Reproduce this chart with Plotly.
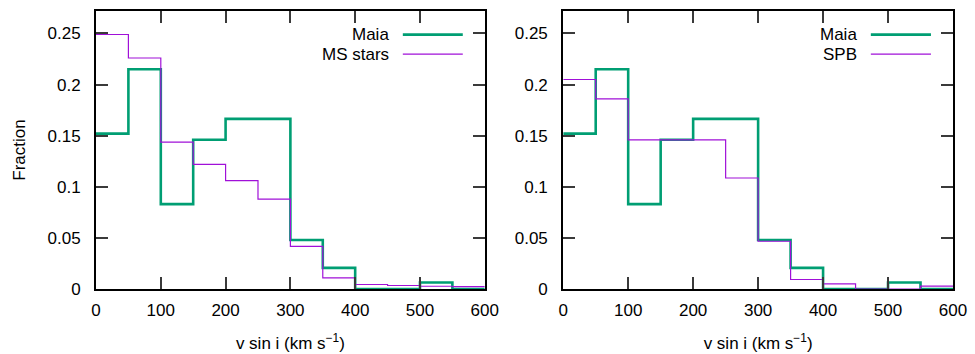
import plotly.graph_objects as go
from plotly.subplots import make_subplots

# ---- data ----
bin_edges = [0, 50, 100, 150, 200, 250, 300, 350, 400, 450, 500, 550, 600]
maia = [0.152, 0.215, 0.083, 0.146, 0.1665, 0.1665, 0.048, 0.0207, 0.0, 0.0, 0.0063, 0.0]
ms_stars = [0.249, 0.226, 0.1437, 0.122, 0.106, 0.088, 0.0418, 0.0109, 0.0044, 0.0034, 0.0027, 0.0024]
spb = [0.205, 0.186, 0.146, 0.146, 0.146, 0.1086, 0.0467, 0.0093, 0.005, 0.0, 0.0, 0.0028]
x_ticks = [0, 100, 200, 300, 400, 500, 600]
y_ticks = [0, 0.05, 0.1, 0.15, 0.2, 0.25]
y_tick_labels = ["0", "0.05", "0.1", "0.15", "0.2", "0.25"]

GREEN = "#009e73"
VIOLET = "#a010d8"
TICK = "#3a3a3a"
FONT = "Liberation Sans, Arial, sans-serif"
FS = 17

W, H = 975, 354
ml, mr, mt, mb = 96, 21.5, 11, 64.5
plot_w = W - ml - mr
plot_h = H - mt - mb
left_w = 389.0
gap = 563.5 - 96 - left_w

fig = make_subplots(rows=1, cols=2, horizontal_spacing=gap / plot_w)
fig.update_xaxes(domain=[0, left_w / plot_w], row=1, col=1)
fig.update_xaxes(domain=[(563.5 - 96) / plot_w, 1], row=1, col=2)


def steps(vals):
    return vals + [vals[-1]]


panels = [(1, ms_stars, "MS stars"), (2, spb, "SPB")]
for col, other, name in panels:
    fig.add_trace(go.Scatter(x=bin_edges, y=steps(maia), mode="lines", line_shape="hv",
                             line=dict(color=GREEN, width=2.6), name="Maia", showlegend=False),
                  row=1, col=col)
    fig.add_trace(go.Scatter(x=bin_edges, y=steps(other), mode="lines", line_shape="hv",
                             line=dict(color=VIOLET, width=1.2), name=name, showlegend=False),
                  row=1, col=col)

fig.update_xaxes(range=[0, 600], tickmode="array", tickvals=x_ticks,
                 ticktext=[str(v) for v in x_ticks],
                 title=dict(text="v sin i (km s<sup>−1</sup>)",
                            font=dict(family=FONT, size=FS, color="black"), standoff=18))
fig.update_yaxes(range=[0, 0.272], tickmode="array", tickvals=y_ticks, ticktext=y_tick_labels)

for upd in (fig.update_xaxes, fig.update_yaxes):
    upd(showline=True, linecolor="black", linewidth=2, mirror="allticks",
        ticks="inside", ticklen=12, tickwidth=1.8, tickcolor=TICK,
        showgrid=False, zeroline=False, automargin=False,
        tickfont=dict(family=FONT, size=FS, color="black"))

fig.update_xaxes(ticklabelstandoff=5)
fig.update_yaxes(ticklabelstandoff=10)

fig.update_yaxes(title=dict(text="Fraction", font=dict(family=FONT, size=FS, color="black"),
                            standoff=18), row=1, col=1)

# manual gnuplot-style legends (label, then sample line at right)
for col, other, name in panels:
    xref = "x domain" if col == 1 else "x2 domain"
    yref = "y domain" if col == 1 else "y2 domain"
    for i, (label, color, width) in enumerate([("Maia", GREEN, 2.6), (name, VIOLET, 1.2)]):
        ypix = 34.7 + i * 19.6
        yd = 1 - (ypix - mt) / plot_h
        fig.add_shape(type="line", xref=xref, yref=yref, x0=(403 - 96) / left_w, x1=(463 - 96) / left_w,
                      y0=yd, y1=yd, line=dict(color=color, width=width))
        fig.add_annotation(xref=xref, yref=yref, x=(391 - 96) / left_w, y=yd, text=label,
                           showarrow=False, xanchor="right", yanchor="middle",
                           font=dict(family=FONT, size=FS, color="black"))

fig.update_layout(width=W, height=H, margin=dict(l=ml, r=mr, t=mt, b=mb),
                  plot_bgcolor="white", paper_bgcolor="white", showlegend=False,
                  font=dict(family=FONT, size=FS, color="black"))

fig.write_html("out.html", config={"displayModeBar": False},
               post_script="document.body.style.margin='0';document.body.style.overflow='hidden';")
